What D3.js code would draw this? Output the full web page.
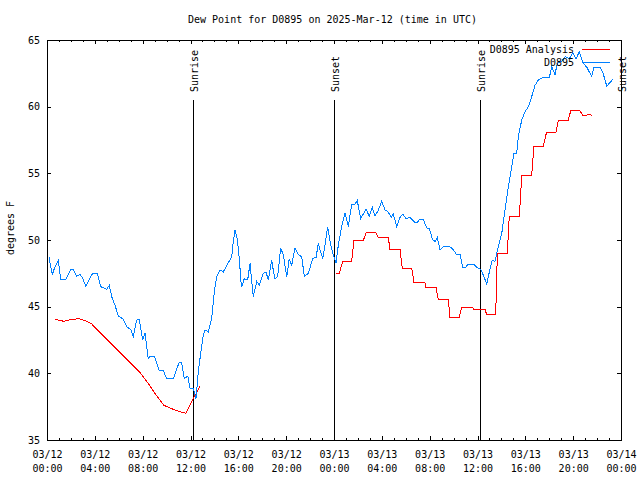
<!DOCTYPE html>
<html><head><meta charset="utf-8">
<script src="https://cdn.jsdelivr.net/npm/d3@7"></script>
<style>
body{margin:0;background:#fff}
text{font-family:"DejaVu Sans Mono",monospace;font-size:10px;fill:#000}
</style>
</head><body>
<svg id="chart" width="640" height="480"></svg>
<script>
const chartTitle = "Dew Point for D0895 on 2025-Mar-12 (time in UTC)";
const yAxisTitle = "degrees F";
const seriesNames = ["D0895 Analysis", "D0895"];
const startDate = "2025-03-12T00:00:00Z";
const spanHours = 48;

// observed dew point (hours since 03/12 00:00 UTC)
const obsHours = [0.17,0.44,0.67,0.94,1.15,1.59,1.98,2.2,2.48,2.76,2.95,3.24,3.82,4.21,4.49,4.99,5.21,5.41,5.69,5.96,
  6.33,6.72,7.0,7.22,7.5,7.72,8.0,8.2,8.47,8.61,8.97,9.39,9.73,10.01,10.56,10.7,11.04,11.26,11.48,11.77,
  11.96,12.23,12.46,12.65,12.85,13.07,13.21,13.49,13.77,13.86,13.99,14.19,14.47,14.74,15.16,15.45,15.58,15.72,15.91,16.08,
  16.22,16.28,16.5,16.78,16.98,17.12,17.25,17.54,17.75,18.09,18.31,18.51,18.79,18.92,19.07,19.29,19.54,19.76,20.05,20.26,
  20.46,20.74,21.02,21.3,21.52,21.85,22.22,22.5,22.69,22.83,23.06,23.25,23.47,23.67,23.89,24.17,24.36,24.64,24.92,25.2,
  25.48,25.76,25.95,26.23,26.68,26.95,27.2,27.43,27.71,27.99,28.27,28.54,28.77,28.96,29.24,29.52,29.75,30.02,30.36,30.77,
  30.97,31.13,31.47,31.75,31.97,32.25,32.45,32.64,32.86,33.2,33.64,33.98,34.26,34.54,34.76,34.96,35.23,35.65,35.93,36.27,
  36.54,36.77,36.99,37.24,37.46,37.74,38.03,38.3,38.58,38.86,39.05,39.28,39.41,39.7,39.97,40.25,40.53,40.81,41.09,41.5,
  42.01,42.21,42.48,42.67,43.04,43.32,43.68,43.96,44.24,44.51,44.85,45.18,45.55,45.74,46.24,46.47,46.81,47.08,47.31];
const obsValues = [48.7,47.4,48.0,48.45,47.05,47.05,47.8,47.8,47.3,47.4,47.2,46.55,47.5,47.5,46.5,46.3,46.6,45.75,45.1,44.3,
  44.1,43.45,43.3,42.75,44.0,44.05,42.5,43.0,41.1,41.3,41.3,40.2,40.2,39.6,39.6,39.95,40.8,40.8,39.6,39.8,
  38.9,38.9,38.1,40.1,41.5,42.9,43.25,43.1,44.1,44.9,46.1,47.25,47.75,47.6,48.3,48.75,49.9,50.75,50.1,48.6,
  46.9,46.5,47.1,47.0,48.25,46.9,45.75,46.9,46.6,47.5,47.6,47.0,48.5,47.75,47.1,47.25,49.4,48.9,47.25,48.6,
  48.1,49.4,48.9,48.75,47.25,47.5,48.6,48.7,49.75,49.25,48.6,49.6,51.0,49.9,49.0,48.3,49.6,51.0,52.0,51.0,
  52.7,52.7,52.95,51.6,52.3,51.8,52.45,51.8,52.25,52.9,52.25,52.1,51.7,51.95,51.0,51.7,51.95,51.6,51.7,51.3,
  51.3,51.55,51.55,50.9,50.85,50.0,49.9,50.2,49.25,49.55,49.55,49.25,48.9,48.9,47.95,47.9,48.2,48.2,47.95,47.8,
  47.25,46.7,47.6,48.5,48.4,49.5,50.5,52.25,54.0,55.5,56.5,56.5,57.75,59.0,59.6,60.0,60.75,61.6,62.0,62.2,
  62.2,63.0,62.4,63.25,63.4,63.75,63.6,64.05,63.6,64.1,63.25,62.9,62.25,62.95,62.95,62.6,61.55,61.8,62.05];

// analysis dew point (null = no analysis)
const anaHours = [0.67,0.94,1.42,1.86,2.2,2.62,2.9,3.32,3.74,7.78,8.34,9.03,9.78,10.29,10.85,11.62,11.96,12.23,12.79,
  18.0,
  24.17,24.44,24.73,25.48,25.67,26.45,26.68,27.51,27.71,28.54,28.68,29.52,29.71,30.5,30.69,31.61,31.69,32.53,32.72,33.56,
  33.7,34.48,34.68,35.6,35.65,36.63,36.77,37.52,37.66,38.49,38.66,39.5,39.7,40.53,40.72,41.5,41.78,42.57,42.76,43.59,
  43.8,44.57,44.8,45.14,45.25,45.6];
const anaValues = [44.05,44.0,43.9,44.0,44.05,44.1,44.05,43.9,43.7,40.05,39.4,38.5,37.6,37.4,37.2,37.0,37.6,38.1,39.0,
  null,
  47.5,47.5,48.4,48.4,49.95,49.95,50.55,50.55,50.2,50.2,49.3,49.3,47.9,47.9,46.8,46.8,46.45,46.45,45.55,45.55,
  44.2,44.2,44.95,44.95,44.8,44.8,44.4,44.4,49.0,49.0,51.8,51.8,54.85,54.85,57.05,57.05,58.1,58.1,59.0,59.0,
  59.7,59.7,59.35,59.35,59.45,59.35];

const sunHours = [12.23, 23.96, 36.24, 47.98];
const sunLabels = ["Sunrise", "Sunset", "Sunrise", "Sunset"];
const yTicks = [35, 40, 45, 50, 55, 60, 65];
const colors = {analysis: "#ff0000", obs: "#0080ff"};

const svg = d3.select("#chart");
const L = 47, R = 621, T = 40, B = 440;
const t0 = new Date(startDate);
const toDate = h => new Date(t0.getTime() + h * 3600e3);
const x = d3.scaleUtc().domain([t0, toDate(spanHours)]).range([L, R]);
const y = d3.scaleLinear().domain([35, 65]).range([B, T]);

svg.append("rect").attr("width", 640).attr("height", 480).attr("fill", "#fff");

const minorTicks = d3.utcHour.every(1).range(t0, toDate(spanHours + 0.01));
const majorTicks = d3.utcHour.every(4).range(t0, toDate(spanHours + 0.01));

function styleAxis(g) {
  g.select(".domain").remove();
  g.selectAll("line").attr("stroke", "#000").attr("shape-rendering", "crispEdges");
  g.selectAll("text").attr("font-family", "DejaVu Sans Mono").attr("font-size", 10);
}
svg.append("g").attr("transform", `translate(0,${B})`)
  .call(d3.axisBottom(x).tickValues(minorTicks).tickSize(-2).tickFormat(""))
  .call(styleAxis);
svg.append("g").attr("transform", `translate(0,${T})`)
  .call(d3.axisTop(x).tickValues(minorTicks).tickSize(-2).tickFormat(""))
  .call(styleAxis);
const fmtD = d3.utcFormat("%m/%d"), fmtT = d3.utcFormat("%H:%M");
const xb = svg.append("g").attr("transform", `translate(0,${B})`)
  .call(d3.axisBottom(x).tickValues(majorTicks).tickSize(-4).tickPadding(12).tickFormat(""))
  .call(styleAxis);
xb.selectAll(".tick").each(function(d) {
  const t = d3.select(this).select("text");
  t.attr("y", 0).attr("dy", null);
  t.append("tspan").attr("x", 0).attr("y", 18).text(fmtD(d));
  t.append("tspan").attr("x", 0).attr("y", 32).text(fmtT(d));
});
svg.append("g").attr("transform", `translate(0,${T})`)
  .call(d3.axisTop(x).tickValues(majorTicks).tickSize(-4).tickFormat(""))
  .call(styleAxis);

svg.append("g").attr("transform", `translate(${L},0)`)
  .call(d3.axisLeft(y).tickValues(yTicks).tickSize(-4).tickPadding(7).tickFormat(d3.format("d")))
  .call(styleAxis);
svg.append("g").attr("transform", `translate(${R},0)`)
  .call(d3.axisRight(y).tickValues(yTicks).tickSize(-4).tickFormat(""))
  .call(styleAxis);

svg.append("rect").attr("x", L + 0.5).attr("y", T + 0.5).attr("width", R - L).attr("height", B - T)
  .attr("fill", "none").attr("stroke", "#000").attr("shape-rendering", "crispEdges");

// sunrise / sunset markers
sunHours.forEach((h, i) => {
  const xp = Math.round(x(toDate(h))) + 0.5;
  svg.append("line").attr("x1", xp).attr("x2", xp).attr("y1", y(60.5)).attr("y2", B)
    .attr("stroke", "#000").attr("shape-rendering", "crispEdges");
  svg.append("text").attr("transform", `translate(${xp + 4},${y(61.1)}) rotate(-90)`)
    .attr("text-anchor", "start").text(sunLabels[i]);
});

const anaData = anaHours.map((h, i) => ({t: toDate(h), v: anaValues[i]}));
const obsData = obsHours.map((h, i) => ({t: toDate(h), v: obsValues[i]}));
const line = d3.line().defined(d => d.v !== null).x(d => x(d.t)).y(d => y(d.v));
svg.append("path").datum(anaData).attr("d", line).attr("fill", "none")
  .attr("stroke", colors.analysis).attr("stroke-width", 1).attr("shape-rendering", "crispEdges");
svg.append("path").datum(obsData).attr("d", line).attr("fill", "none")
  .attr("stroke", colors.obs).attr("stroke-width", 1).attr("shape-rendering", "crispEdges");

const legend = svg.append("g");
[[seriesNames[0], colors.analysis, 49], [seriesNames[1], colors.obs, 62]].forEach(([name, c, yy]) => {
  legend.append("text").attr("x", 574).attr("y", yy + 4).attr("text-anchor", "end").text(name);
  legend.append("line").attr("x1", 582).attr("x2", 610).attr("y1", yy + 0.5).attr("y2", yy + 0.5)
    .attr("stroke", c).attr("shape-rendering", "crispEdges");
});

svg.append("text").attr("x", 332.5).attr("y", 23).attr("text-anchor", "middle").text(chartTitle);
svg.append("text").attr("transform", "translate(13.5,228) rotate(-90)").attr("text-anchor", "middle").text(yAxisTitle);
</script>
</body></html>
